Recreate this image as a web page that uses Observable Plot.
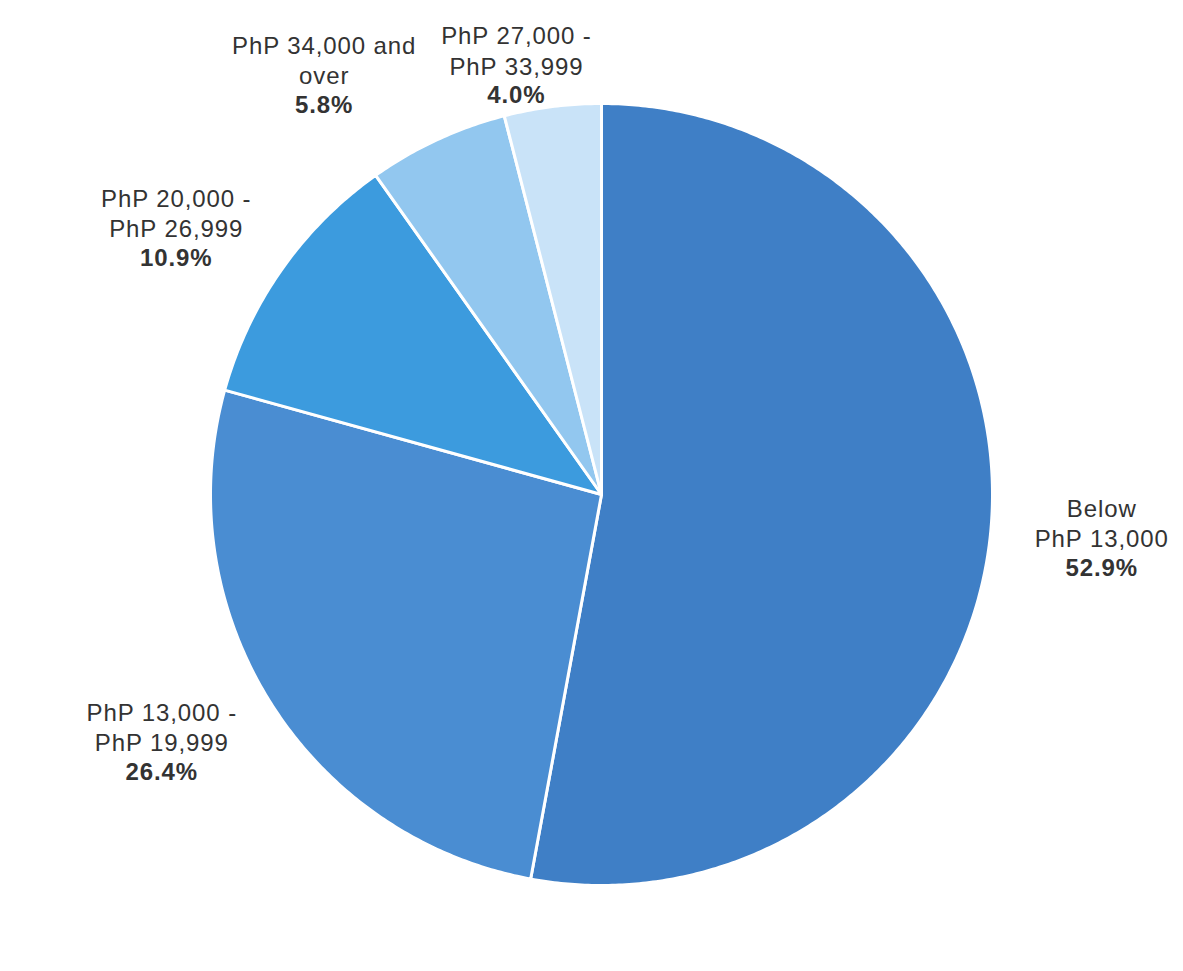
<!DOCTYPE html>
<html>
<head>
<meta charset="utf-8">
<script src="https://cdn.jsdelivr.net/npm/d3@7"></script>
<script src="https://cdn.jsdelivr.net/npm/@observablehq/plot@0.6"></script>
<style>
  html, body { margin: 0; padding: 0; background: #ffffff; }
  #chart { width: 1183px; height: 971px; }
</style>
</head>
<body>
<div id="chart"></div>
<script>
// ---- data ----
const categories = ["Below PhP 13,000", "PhP 13,000 - PhP 19,999", "PhP 20,000 - PhP 26,999", "PhP 34,000 and over", "PhP 27,000 - PhP 33,999"];
const labelNames = ["Below\nPhP 13,000", "PhP 13,000 -\nPhP 19,999", "PhP 20,000 -\nPhP 26,999", "PhP 34,000 and\nover", "PhP 27,000 -\nPhP 33,999"];
const shares = [52.9, 26.4, 10.9, 5.8, 4.0];
const sliceColors = ["#3f7fc6", "#4a8dd2", "#3c9bde", "#92c7ef", "#c9e3f8"];

// ---- layout (not data) ----
const W = 1183, H = 971;
const CX = 601, CY = 494, R = 391;
// label placement relative to slice mid-angle: radius factor and angle nudge (deg)
const labelRadius = [1.284, 1.29, 1.284, 1.287, 1.12];
const labelNudge = [-0.3, 2.7, -3, -8.6, -4];
const LINE = 30.5;

const rows = categories.map((c, i) => ({key: c, name: labelNames[i], share: shares[i], color: sliceColors[i], i}));
const arcs = d3.pie().sort(null).value(d => d.share)(rows);

// polygon points per slice (unit radius)
const polyPts = [];
for (const a of arcs) {
  const k = a.data.key;
  polyPts.push({key: k, color: a.data.color, x: 0, y: 0});
  const n = Math.max(4, Math.ceil((a.endAngle - a.startAngle) / (Math.PI / 360)));
  for (let j = 0; j <= n; j++) {
    const t = a.startAngle + (a.endAngle - a.startAngle) * j / n;
    polyPts.push({key: k, color: a.data.color, x: Math.sin(t), y: -Math.cos(t)});
  }
}

const labels = arcs.map((a, i) => {
  const mid = (a.startAngle + a.endAngle) / 2 + labelNudge[i] * Math.PI / 180;
  const r = labelRadius[i];
  return {name: a.data.name, pct: a.data.share.toFixed(1) + "%", x: r * Math.sin(mid), y: -r * Math.cos(mid)};
});

const font = "Liberation Sans, Arial, Helvetica, sans-serif";
const FS = 24;
const chart = Plot.plot({
  width: W,
  height: H,
  margin: 0,
  x: {domain: [-CX / R, (W - CX) / R], range: [0, W], axis: null},
  y: {domain: [-CY / R, (H - CY) / R], range: [0, H], axis: null},
  color: {type: "identity"},
  style: {background: "#ffffff", letterSpacing: "0.9px"},
  marks: [
    Plot.line(polyPts, {x: "x", y: "y", z: "key", fill: "color", stroke: "#ffffff", strokeWidth: 3, strokeLinejoin: "round", curve: "linear-closed"}),
    Plot.text(labels, {x: "x", y: "y", text: "name", fontSize: FS, lineHeight: LINE / FS, dy: -LINE / 2, fill: "#333333", fontFamily: font}),
    Plot.text(labels, {x: "x", y: "y", text: "pct", fontSize: FS, dy: LINE, fontWeight: "bold", fill: "#333333", fontFamily: font})
  ]
});
document.getElementById("chart").appendChild(chart);
</script>
</body>
</html>
